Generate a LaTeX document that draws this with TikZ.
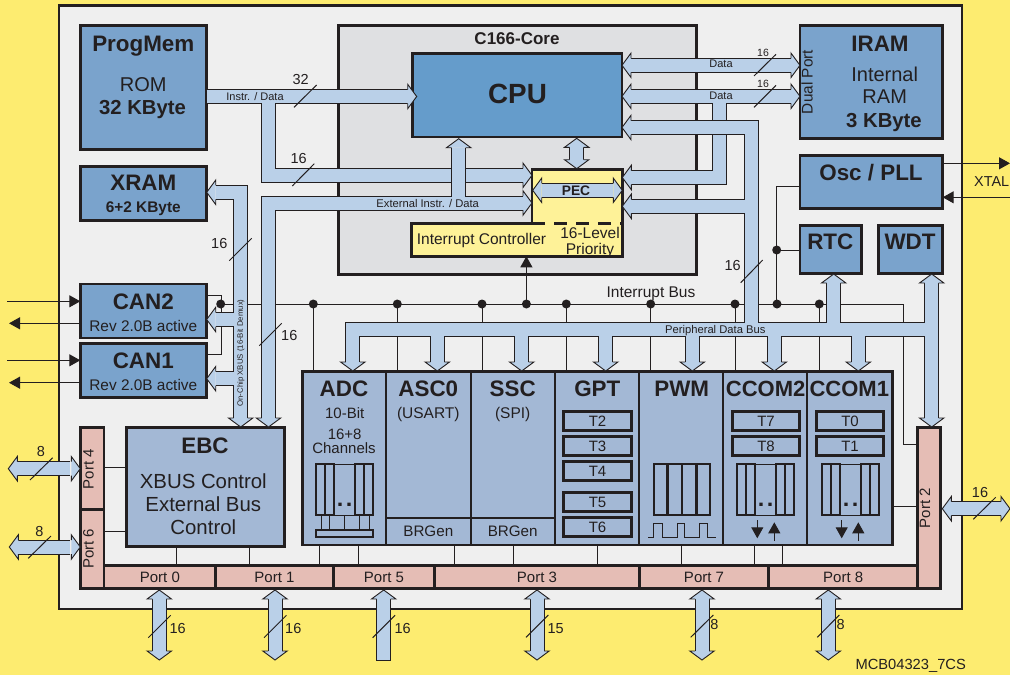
\documentclass[tikz,border=0pt]{standalone}
\usepackage{fontspec}
\setmainfont{Liberation Sans}
\usetikzlibrary{arrows.meta}
\definecolor{outerc}{HTML}{FDEC70}
\definecolor{panelc}{HTML}{EFEFEF}
\definecolor{corec}{HTML}{DFE0E2}
\definecolor{cpuc}{HTML}{659CCB}
\definecolor{memc}{HTML}{7AA3CC}
\definecolor{perc}{HTML}{A3B8D5}
\definecolor{portc}{HTML}{E5BDB5}
\definecolor{busc}{HTML}{BAD0E8}
\definecolor{yelc}{HTML}{FEF298}
\definecolor{linec}{HTML}{231F20}
\begin{document}
\begin{tikzpicture}[x=1pt,y=-1pt,>={Triangle[length=11pt,width=12pt]},
	lbl/.style={inner sep=0pt,outer sep=0pt,text=linec,font=\fontsize{#1}{#1}\selectfont,text height=0.716*#1pt,text depth=0pt},
	blbl/.style={inner sep=0pt,outer sep=0pt,text=linec,font=\fontsize{#1}{#1}\selectfont\bfseries,text height=0.716*#1pt,text depth=0pt},
	block/.style={draw=linec,line width=2.7pt,inner sep=0pt,outer sep=0pt,anchor=north west},
	portbox/.style={block,fill=portc,lbl=15},
	tbox/.style={block,lbl=15,minimum height=19pt},
	wire/.style={draw=linec,line width=1pt},
	inner/.style={draw=linec,line width=2.2pt},
	bus/.style={draw=busc,line width=13pt,preaction={draw=linec,line width=15pt}},
	bushead/.pic={\path[fill=busc,draw=linec,line width=.9pt] (9,-7) -- (9,-12.2) -- (0,0) -- (9,12.2) -- (9,7);},
	capblock/.pic={
		\draw[inner] (0,0) rectangle (17.4,51.3) (8.7,0) -- (8.7,51.3) (39,0) rectangle (56.4,51.3) (47.7,0) -- (47.7,51.3);
		\draw[wire] (17.4,0) -- (39,0) (17.4,51.3) -- (39,51.3);
		\fill[linec] (22,38.5) rectangle ++(3.3,3.3) (31,38.5) rectangle ++(3.3,3.3);
	}]
	\path[use as bounding box,fill=outerc] (0,0) rectangle (1010,675);
	\node[block,fill=panelc,minimum width=903pt,minimum height=603.5pt] (panel) at (59,5.5) {};
	\node[block,fill=corec,minimum width=357.6pt,minimum height=249.4pt] (core) at (338.7,25.3) {};
	\node[blbl=17] (coreT) at (517,38.5) {C166-Core};
	\coordinate (irq) at (0,304);
	\coordinate (instr) at (0,96.5);
	\coordinate (instrB) at (0,175.3);
	\coordinate (extern) at (0,203);
	\coordinate (dataA) at (0,65.3);
	\coordinate (dataB) at (0,96.3);
	\coordinate (pecA) at (0,177.5);
	\coordinate (pecB) at (0,206.3);
	\coordinate (cpuB) at (0,127.5);
	\coordinate (perbus) at (0,329.3);
	\coordinate (xramB) at (0,192.3);
	\coordinate (can2B) at (0,319.5);
	\coordinate (can1B) at (0,378.7);
	% memories and clock blocks
	\node[block,fill=memc,minimum width=126.4pt,minimum height=124.4pt] (progmem) at (80.3,25.3) {};
	\node[blbl=22.4] (progmemT) at (143.3,43.3) {ProgMem};
	\node[lbl=20] (romT) at (143.3,84) {ROM};
	\node[blbl=20.3] (romS) at (142.5,107.3) {32 KByte};
	\node[block,fill=memc,minimum width=126.4pt,minimum height=54.4pt] (xram) at (80.3,166.3) {};
	\node[blbl=22.4] (xramT) at (143.3,182.7) {XRAM};
	\node[blbl=15.4] (xramS) at (143.3,207.3) {6+2 KByte};
	\node[block,fill=memc,minimum width=142.7pt,minimum height=113pt] (iram) at (800,25.3) {};
	\node[blbl=22.4] (iramT) at (880,43.3) {IRAM};
	\node[lbl=20] (iramA) at (884.7,74) {Internal};
	\node[lbl=20] (iramB) at (884.7,96.7) {RAM};
	\node[blbl=20.3] (iramS) at (884,120) {3 KByte};
	\node[lbl=15.4,rotate=90] (dualT) at (807,82) {Dual Port};
	\node[block,fill=memc,minimum width=142.7pt,minimum height=52.6pt] (osc) at (800,155.7) {};
	\node[blbl=22.4] (oscT) at (871,172.7) {Osc / PLL};
	\node[block,fill=memc,minimum width=61.7pt,minimum height=48.4pt] (rtc) at (800,225.3) {};
	\node[blbl=22.4] (rtcT) at (830.3,241.7) {RTC};
	\node[block,fill=memc,minimum width=64pt,minimum height=48.4pt] (wdt) at (878.7,225.3) {};
	\node[blbl=22.4] (wdtT) at (910,241.7) {WDT};
	\node[block,fill=memc,minimum width=126.4pt,minimum height=54pt] (can2) at (80.3,284) {};
	\node[blbl=22.4] (can2T) at (143.3,301) {CAN2};
	\node[lbl=15.4] (can2S) at (143.3,325.7) {Rev 2.0B active};
	\node[block,fill=memc,minimum width=126.4pt,minimum height=54pt] (can1) at (80.3,343.3) {};
	\node[blbl=22.4] (can1T) at (143.3,360) {CAN1};
	\node[lbl=15.4] (can1S) at (143.3,384.7) {Rev 2.0B active};
	% peripherals
	\node[block,fill=perc,minimum width=83.3pt,minimum height=173.7pt] (adc) at (302.7,371.3) {};
	\node[block,fill=perc,minimum width=85pt,minimum height=173.7pt] (asc0) at (386,371.3) {};
	\node[block,fill=perc,minimum width=84pt,minimum height=173.7pt] (ssc) at (471,371.3) {};
	\node[block,fill=perc,minimum width=84pt,minimum height=173.7pt] (gpt) at (555,371.3) {};
	\node[block,fill=perc,minimum width=84pt,minimum height=173.7pt] (pwm) at (639,371.3) {};
	\node[block,fill=perc,minimum width=84pt,minimum height=173.7pt] (ccom2) at (723,371.3) {};
	\node[block,fill=perc,minimum width=85.7pt,minimum height=173.7pt] (ccom1) at (807,371.3) {};
	\node[blbl=22.4] (adcT) at (344,388.3) {ADC};
	\node[blbl=22.4] (asc0T) at (428.3,388.3) {ASC0};
	\node[blbl=22.4] (sscT) at (512.7,388.3) {SSC};
	\node[blbl=22.4] (gptT) at (597.3,388.3) {GPT};
	\node[blbl=22.4] (pwmT) at (681.7,388.3) {PWM};
	\node[blbl=22] (ccom2T) at (765.7,388.3) {CCOM2};
	\node[blbl=22] (ccom1T) at (849.3,388.3) {CCOM1};
	\node[lbl=15] (adcA) at (344.7,412.7) {10-Bit};
	\node[lbl=15] (adcB) at (344.7,433.7) {16+8};
	\node[lbl=15] (adcC) at (344,447.7) {Channels};
	\node[lbl=15.5] (ascS) at (428.3,413) {(USART)};
	\node[lbl=15.5] (sscS) at (512.7,413) {(SPI)};
	\draw[line width=1.4pt,linec] (asc0.west |- 0,518) -- (ssc.east |- 0,518);
	\node[lbl=15.2] (brgA) at (428.3,530.7) {BRGen};
	\node[lbl=15.2] (brgB) at (512.7,530.7) {BRGen};
	\node[tbox,minimum width=67.6pt] (t2) at (563.7,411.3) {T2};
	\node[tbox,minimum width=67.6pt] (t3) at (563.7,436.3) {T3};
	\node[tbox,minimum width=67.6pt] (t4) at (563.7,461.5) {T4};
	\node[tbox,minimum width=67.6pt] (t5) at (563.7,492.8) {T5};
	\node[tbox,minimum width=67.6pt] (t6) at (563.7,517.8) {T6};
	\node[tbox,minimum width=67.4pt] (t7) at (732.3,411.3) {T7};
	\node[tbox,minimum width=67.4pt] (t8) at (732.3,436.3) {T8};
	\node[tbox,minimum width=67.4pt] (t0) at (816.3,411.3) {T0};
	\node[tbox,minimum width=67.4pt] (t1) at (816.3,436.3) {T1};
	\pic at (316.3,464) {capblock};
	\pic at (737.3,464) {capblock};
	\pic at (822.3,464) {capblock};
	\draw[inner] (316.3,530) rectangle (372.7,537);
	\draw[wire] (321,515.3) -- (321,530) (329,515.3) -- (329,530) (344,515.3) -- (344,530) (359,515.3) -- (359,530) (369,515.3) -- (369,530);
	\draw[inner] (654.3,464) rectangle (710,515.3) (667.5,464) -- (667.5,515.3) (682,464) -- (682,515.3) (696.5,464) -- (696.5,515.3);
	\draw[wire] (648,537) -- (653,537) -- (653,523) -- (662,523) -- (662,537) -- (677,537) -- (677,523) -- (684,523) -- (684,537) -- (699,537) -- (699,523) -- (707,523) -- (707,537) -- (716,537);
	\draw[wire,->] (757.3,520) -- (757.3,538.3);
	\draw[wire,->] (774.3,541) -- (774.3,522.3);
	\draw[wire,->] (841.7,520) -- (841.7,538.3);
	\draw[wire,->] (858.3,541) -- (858.3,522.3);
	% ports
	\node[block,fill=perc,minimum width=158.4pt,minimum height=119pt] (ebc) at (126.3,427.3) {};
	\node[blbl=22.4] (ebcT) at (205,445) {EBC};
	\node[lbl=20.4] (ebcA) at (203.3,480.7) {XBUS Control};
	\node[lbl=20.4] (ebcB) at (203.3,504) {External Bus};
	\node[lbl=20.4] (ebcC) at (203.3,527.3) {Control};
	\node[block,fill=portc,minimum width=23.7pt,minimum height=82pt] (port4) at (80.3,427.3) {};
	\node[block,fill=portc,minimum width=23.7pt,minimum height=79.4pt] (port6) at (80.3,509.3) {};
	\node[lbl=15,rotate=90] (port4T) at (88.3,469) {Port 4};
	\node[lbl=15,rotate=90] (port6T) at (88.3,548.7) {Port 6};
	\node[portbox,minimum width=111.7pt,minimum height=23.4pt] (port0) at (104,565.3) {Port 0};
	\node[portbox,minimum width=117.6pt,minimum height=23.4pt] (port1) at (215.7,565.3) {Port 1};
	\node[portbox,minimum width=101.4pt,minimum height=23.4pt] (port5) at (333.3,565.3) {Port 5};
	\node[portbox,minimum width=204.6pt,minimum height=23.4pt] (port3) at (434.7,565.3) {Port 3};
	\node[portbox,minimum width=129.4pt,minimum height=23.4pt] (port7) at (639.3,565.3) {Port 7};
	\node[portbox,minimum width=149pt,minimum height=23.4pt] (port8) at (768.7,565.3) {Port 8};
	\node[block,fill=portc,minimum width=22.6pt,minimum height=161.4pt] (port2) at (917.7,427.3) {};
	\node[lbl=15,rotate=90] (port2T) at (924.7,508) {Port 2};
	% thin connections
	\draw[wire] (port4.east |- 0,467.3) -- (ebc.west |- 0,467.3);
	\draw[wire] (port6.east |- 0,531.3) -- (ebc.west |- 0,531.3);
	\draw[wire] (176.3,0 |- ebc.south) -- (176.3,0 |- port0.north);
	\draw[wire] (249.3,0 |- ebc.south) -- (249.3,0 |- port1.north);
	\draw[wire] (319.3,0 |- adc.south) -- (319.3,0 |- port1.north);
	\draw[wire] (358.3,0 |- adc.south) -- (358.3,0 |- port5.north);
	\draw[wire] (454.3,0 |- asc0.south) -- (454.3,0 |- port3.north);
	\draw[wire] (513.3,0 |- ssc.south) -- (513.3,0 |- port3.north);
	\draw[wire] (597.3,0 |- gpt.south) -- (597.3,0 |- port3.north);
	\draw[wire] (681.7,0 |- pwm.south) -- (681.7,0 |- port7.north);
	\draw[wire] (754.5,0 |- ccom2.south) -- (754.5,0 |- port8.north);
	\draw[wire] (782.5,0 |- ccom2.south) -- (782.5,0 |- port8.north);
	\draw[wire] (ccom1.east |- 0,506) -- (port2.west |- 0,506);
	\draw[wire] (can2.east |- 0,295.7) -- (221,295.7) -- (221,354.3) -- (can1.east |- 0,354.3);
	\draw[wire] (221,0 |- irq) -- (903.3,0 |- irq) -- (903.3,444) -- (port2.west |- 0,444);
	\draw[wire] (313.3,0 |- irq) -- (313.3,0 |- adc.north);
	\draw[wire] (397.3,0 |- irq) -- (397.3,0 |- asc0.north);
	\draw[wire] (482,0 |- irq) -- (482,0 |- ssc.north);
	\draw[wire] (566.3,0 |- irq) -- (566.3,0 |- gpt.north);
	\draw[wire] (650.7,0 |- irq) -- (650.7,0 |- pwm.north);
	\draw[wire] (735,0 |- irq) -- (735,0 |- ccom2.north);
	\draw[wire] (819.3,0 |- irq) -- (819.3,0 |- ccom1.north);
	\draw[wire] (776.7,0 |- irq) -- (776.7,186.7) -- (osc.west |- 0,186.7);
	\draw[wire] (776.7,250) -- (rtc.west |- 0,250);
	\fill[linec] (220.7,304) circle (4.5);
	\fill[linec] (313.3,304) circle (4.5);
	\fill[linec] (397.3,304) circle (4.5);
	\fill[linec] (482,304) circle (4.5);
	\fill[linec] (526.4,304) circle (4.5);
	\fill[linec] (566.3,304) circle (4.5);
	\fill[linec] (650.7,304) circle (4.5);
	\fill[linec] (735,304) circle (4.5);
	\fill[linec] (777,304) circle (4.5);
	\fill[linec] (819.3,304) circle (4.5);
	\fill[linec] (776.7,250) circle (4.5);
	\node[lbl=15.5] (irqT) at (651,292) {Interrupt Bus};
	% C166 core
	\node[block,fill=cpuc,minimum width=209.3pt,minimum height=83.3pt] (cpu) at (412.7,53.7) {};
	\node[blbl=27.8] (cpuT) at (517.5,93.5) {CPU};
	\draw[block,fill=yelc,line join=miter] (532,169.7) -- (622.3,169.7) -- (622.3,256.3) -- (411.3,256.3) -- (411.3,223.8) -- (532,223.8) -- cycle;
	\coordinate (pecW) at (532,169.7);
	\coordinate (pecE) at (622.3,169.7);
	\coordinate (intS) at (526.4,256.3);
	\draw[line width=2.7pt,linec,dash pattern=on 13pt off 9pt] (pecW |- 0,223.4) -- (pecE |- 0,223.4);
	\node[lbl=15.5] (intT) at (481.5,238.5) {Interrupt Controller};
	\node[lbl=15.5] (prioA) at (590,232.7) {16-Level};
	\node[lbl=15.5] (prioB) at (590,249) {Priority};
	\draw[wire,->] (526.4,0 |- irq) -- (intS);
	% buses
	\draw[bus] (progmem.east |- instr) -- ([xshift=-4.7pt]cpu.west |- instr) (268.5,0 |- instr) -- (268.5,0 |- instrB) -- ([xshift=-9pt]pecW |- instrB);
	\pic[rotate=180] at ([xshift=4pt]cpu.west |- instr) {bushead};
	\pic[rotate=180] at (pecW |- instrB) {bushead};
	\draw[bus] (268.5,418) -- (268.5,0 |- extern) -- ([xshift=-9pt]pecW |- extern) (458.7,0 |- extern) -- (458.7,147.7);
	\pic[rotate=180] at (pecW |- extern) {bushead};
	\pic[rotate=90] at (268.5,427) {bushead};
	\pic[rotate=-90] at (458.7,138.7) {bushead};
	\draw[bus] ([xshift=9pt]xram.east |- xramB) -- (240.7,0 |- xramB) -- (240.7,418) (240.7,0 |- can2B) -- ([xshift=9pt]can2.east |- can2B) (240.7,0 |- can1B) -- ([xshift=9pt]can1.east |- can1B);
	\pic at (xram.east |- xramB) {bushead};
	\pic at (can2.east |- can2B) {bushead};
	\pic at (can1.east |- can1B) {bushead};
	\pic[rotate=90] at (240.7,427) {bushead};
	\draw[bus] ([xshift=9pt]cpu.east |- dataA) -- ([xshift=-9pt]iram.west |- dataA);
	\pic at (cpu.east |- dataA) {bushead};
	\pic[rotate=180] at (iram.west |- dataA) {bushead};
	\draw[bus] ([xshift=9pt]cpu.east |- dataB) -- ([xshift=-9pt]iram.west |- dataB) (719.7,0 |- dataB) -- (719.7,0 |- pecA) -- ([xshift=9pt]pecE |- pecA);
	\pic at (cpu.east |- dataB) {bushead};
	\pic[rotate=180] at (iram.west |- dataB) {bushead};
	\pic at (pecE |- pecA) {bushead};
	\draw[bus] ([xshift=9pt]cpu.east |- cpuB) -- (751.5,0 |- cpuB) -- (751.5,0 |- perbus) (751.5,0 |- pecB) -- ([xshift=9pt]pecE |- pecB)
		(352.8,362) -- (352.8,0 |- perbus) -- (931.7,0 |- perbus) (437.3,0 |- perbus) -- (437.3,362) (521.7,0 |- perbus) -- (521.7,362) (605.7,0 |- perbus) -- (605.7,362)
		(692.3,0 |- perbus) -- (692.3,362) (774.3,0 |- perbus) -- (774.3,362) (858.3,0 |- perbus) -- (858.3,362) (833.7,0 |- perbus) -- (833.7,283) (931.7,283) -- (931.7,418);
	\pic at (cpu.east |- cpuB) {bushead};
	\pic at (pecE |- pecB) {bushead};
	\pic[rotate=90] at (352.8,371) {bushead};
	\pic[rotate=90] at (437.3,371) {bushead};
	\pic[rotate=90] at (521.7,371) {bushead};
	\pic[rotate=90] at (605.7,371) {bushead};
	\pic[rotate=90] at (692.3,371) {bushead};
	\pic[rotate=90] at (774.3,371) {bushead};
	\pic[rotate=90] at (858.3,371) {bushead};
	\pic[rotate=90] at (931.7,427) {bushead};
	\pic[rotate=-90] at (833.7,274) {bushead};
	\pic[rotate=-90] at (931.7,274) {bushead};
	% pec arrows
	\draw[bus] (541.7,190.3) -- (613.3,190.3);
	\pic at (532.7,190.3) {bushead};
	\pic[rotate=180] at (622.3,190.3) {bushead};
	\node[blbl=13.8] (pecT) at (576,191) {PEC};
	\draw[bus] (576.7,147.3) -- (576.7,159.7);
	\pic[rotate=-90] at (576.7,138.3) {bushead};
	\pic[rotate=90] at (576.7,168.7) {bushead};
	% external buses
	\draw[bus] (17.3,468.7) -- (70.3,468.7);
	\pic at (8.3,468.7) {bushead};
	\pic[rotate=180] at (port4.west |- 0,468.7) {bushead};
	\draw[bus] (18.3,547) -- (70.3,547);
	\pic at (9.3,547) {bushead};
	\pic[rotate=180] at (port6.west |- 0,547) {bushead};
	\draw[bus] (159.3,599) -- (159.3,651);
	\pic[rotate=-90] at (159.3,590) {bushead};
	\pic[rotate=90] at (159.3,660) {bushead};
	\draw[bus] (275,599) -- (275,651);
	\pic[rotate=-90] at (275,590) {bushead};
	\pic[rotate=90] at (275,660) {bushead};
	\draw[bus] (383.7,599) -- (383.7,660);
	\draw[wire] (376.2,660) -- (391.2,660);
	\pic[rotate=-90] at (383.7,590) {bushead};
	\draw[bus] (537,599) -- (537,651);
	\pic[rotate=-90] at (537,590) {bushead};
	\pic[rotate=90] at (537,660) {bushead};
	\draw[bus] (702,599) -- (702,651);
	\pic[rotate=-90] at (702,590) {bushead};
	\pic[rotate=90] at (702,660) {bushead};
	\draw[bus] (828.3,599) -- (828.3,651);
	\pic[rotate=-90] at (828.3,590) {bushead};
	\pic[rotate=90] at (828.3,660) {bushead};
	\draw[bus] (951.3,508.7) -- (1001,508.7);
	\pic at (942.3,508.7) {bushead};
	\pic[rotate=180] at (1010,508.7) {bushead};
	% xtal and can pins
	\draw[wire,->] (osc.east |- 0,163.3) -- (1010,163.3);
	\draw[wire,->] (1010,197.3) -- (osc.east |- 0,197.3);
	\node[lbl=14.4] (xtalT) at (991.7,181.7) {XTAL};
	\draw[wire,->] (7,301.3) -- (can2.west |- 0,301.3);
	\draw[wire,->] (can2.west |- 0,323.3) -- (9,323.3);
	\draw[wire,->] (7,360.3) -- (can1.west |- 0,360.3);
	\draw[wire,->] (can1.west |- 0,382.7) -- (9,382.7);
	% bus labels
	\node[lbl=11] (instrT) at (255,96.3) {Instr. / Data};
	\node[lbl=11.2] (externT) at (427.7,203) {External Instr. / Data};
	\node[lbl=11.2] (perT) at (715.3,329) {Peripheral Data Bus};
	\node[lbl=11] (dataAT) at (721,63.7) {Data};
	\node[lbl=11] (dataBT) at (721,95.3) {Data};
	\node[lbl=7.8,rotate=90] (xbusT) at (240,353) {On-Chip XBUS (16-Bit Demux)};
	% width marks
	\draw[wire] (294,107.3) -- ++(22.6,-22.3);
	\node[lbl=14.5] (w32) at (300.7,79.3) {32};
	\draw[wire] (292.3,186) -- ++(22,-22.3);
	\node[lbl=14.5] (w16a) at (298.7,158.3) {16};
	\draw[wire] (229.3,260.7) -- ++(22.4,-22.4);
	\node[lbl=14.5] (w16b) at (219.3,243.3) {16};
	\draw[wire] (259.3,345.7) -- ++(22.4,-22.4);
	\node[lbl=14.5] (w16c) at (289.3,335.3) {16};
	\draw[wire] (740.7,282.7) -- ++(22,-22.7);
	\node[lbl=14.5] (w16d) at (732.7,265.7) {16};
	\draw[wire] (754,76) -- ++(22,-21.7);
	\node[lbl=10.5] (w16e) at (763,52.7) {16};
	\draw[wire] (754,107.3) -- ++(22,-22);
	\node[lbl=10.5] (w16f) at (763,84) {16};
	\draw[wire] (30,480) -- ++(22.7,-22.3);
	\node[lbl=14.5] (w8a) at (41,451.7) {8};
	\draw[wire] (28.3,558.3) -- ++(22.7,-22.3);
	\node[lbl=14.5] (w8b) at (39.3,531) {8};
	\draw[wire] (148.3,637.7) -- ++(22.4,-22.4);
	\node[lbl=14.5] (w16g) at (177.7,628.3) {16};
	\draw[wire] (264,637.7) -- ++(22.4,-22.4);
	\node[lbl=14.5] (w16h) at (293.3,628.3) {16};
	\draw[wire] (372.7,637.7) -- ++(22.4,-22.4);
	\node[lbl=14.5] (w16i) at (402.7,628.3) {16};
	\draw[wire] (526,637.3) -- ++(22.3,-22.3);
	\node[lbl=14.5] (w15) at (555.7,628.3) {15};
	\draw[wire] (690.7,637.3) -- ++(22.6,-22.3);
	\node[lbl=14.5] (w8c) at (714.3,624.3) {8};
	\draw[wire] (817.3,637.3) -- ++(22,-22.3);
	\node[lbl=14.5] (w8d) at (840.7,624.3) {8};
	\draw[wire] (973.3,519.3) -- ++(22.4,-22);
	\node[lbl=14.5] (w16j) at (980,492.7) {16};
	\node[lbl=14.7] (figT) at (910.7,664) {MCB04323\_7CS};
\end{tikzpicture}
\end{document}
